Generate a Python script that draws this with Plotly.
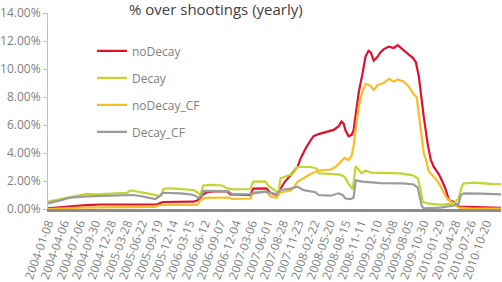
import plotly.graph_objects as go

tick_labels = ["2004-01-08", "2004-04-06", "2004-07-06", "2004-09-30", "2004-12-28",
               "2005-03-28", "2005-06-22", "2005-09-19", "2005-12-14", "2006-03-15",
               "2006-06-12", "2006-09-07", "2006-12-04", "2007-03-06", "2007-06-01",
               "2007-08-28", "2007-11-23", "2008-02-22", "2008-05-20", "2008-08-15",
               "2008-11-11", "2009-02-10", "2009-05-08", "2009-08-05", "2009-10-30",
               "2010-01-29", "2010-04-28", "2010-07-26", "2010-10-20"]

nodecay_dates = ["2004-01-08", "2004-02-16", "2004-04-13", "2004-06-20", "2004-08-16", "2004-10-29",
                 "2005-04-16", "2005-08-08", "2005-09-16", "2005-10-03", "2005-10-20", "2006-04-08",
                 "2006-05-01", "2006-05-18", "2006-06-04", "2006-06-27", "2006-07-31", "2006-10-18",
                 "2006-11-04", "2007-02-25", "2007-03-14", "2007-05-27", "2007-06-19", "2007-07-23",
                 "2007-08-15", "2007-09-06", "2007-10-10", "2007-11-19", "2007-12-06", "2008-01-03",
                 "2008-02-01", "2008-02-18", "2008-03-17", "2008-05-08", "2008-06-10", "2008-07-08",
                 "2008-07-25", "2008-08-06", "2008-08-17", "2008-09-03", "2008-09-20", "2008-10-01",
                 "2008-10-13", "2008-10-30", "2008-11-21", "2008-12-08", "2008-12-25", "2009-01-06",
                 "2009-01-23", "2009-02-09", "2009-03-03", "2009-03-20", "2009-04-18", "2009-05-16",
                 "2009-06-08", "2009-06-25", "2009-07-12", "2009-08-03", "2009-09-01", "2009-09-18",
                 "2009-10-05", "2009-10-16", "2009-11-02", "2009-11-25", "2009-12-12", "2009-12-29",
                 "2010-01-26", "2010-02-18", "2010-03-07", "2010-03-24", "2010-04-21", "2010-05-19",
                 "2010-08-12", "2011-01-13"]
nodecay_vals = [0.05, 0.10, 0.18, 0.22, 0.28, 0.32,
                0.32, 0.30, 0.33, 0.42, 0.50, 0.52,
                0.60, 0.80, 1.05, 1.20, 1.25, 1.25,
                1.05, 1.00, 1.45, 1.48, 1.15, 1.00,
                1.50, 1.90, 2.40, 3.00, 3.60, 4.30,
                4.90, 5.20, 5.35, 5.50, 5.65, 5.90,
                6.25, 6.10, 5.60, 5.20, 5.30, 5.60,
                6.80, 8.30, 9.70, 10.90, 11.30, 11.20,
                10.60, 10.80, 11.20, 11.40, 11.60, 11.50,
                11.70, 11.50, 11.35, 11.10, 10.80, 10.50,
                9.50, 8.20, 6.60, 4.60, 3.50, 3.00,
                2.50, 1.90, 1.36, 0.64, 0.50, 0.17,
                0.12, 0.08]

decay_dates = ["2004-01-08", "2004-02-16", "2004-03-27", "2004-04-30", "2004-05-29", "2004-07-07",
               "2004-08-16", "2004-09-30", "2004-11-26", "2005-01-10", "2005-02-19", "2005-03-30",
               "2005-04-16", "2005-05-09", "2005-06-12", "2005-08-08", "2005-09-11", "2005-09-22",
               "2005-10-09", "2005-10-20", "2005-11-12", "2005-12-27", "2006-02-22", "2006-04-08",
               "2006-05-01", "2006-05-18", "2006-06-04", "2006-07-14", "2006-09-20", "2006-10-12",
               "2006-11-21", "2007-01-28", "2007-02-25", "2007-03-14", "2007-05-21", "2007-06-08",
               "2007-07-06", "2007-08-03", "2007-08-15", "2007-09-23", "2007-10-22", "2007-11-19",
               "2008-02-01", "2008-03-06", "2008-03-17", "2008-07-20", "2008-08-11", "2008-09-03",
               "2008-09-26", "2008-10-13", "2008-11-04", "2008-11-16", "2008-12-08", "2009-01-06",
               "2009-06-25", "2009-09-01", "2009-09-29", "2009-10-16", "2009-10-27", "2009-11-25",
               "2010-02-06", "2010-04-21", "2010-05-19", "2010-06-05", "2010-06-17", "2010-08-12",
               "2010-11-17", "2011-01-13"]
decay_vals = [0.52, 0.62, 0.75, 0.85, 0.90, 0.98,
              1.08, 1.05, 1.08, 1.15, 1.12, 1.15,
              1.32, 1.30, 1.20, 1.10, 1.00, 0.88,
              0.95, 1.40, 1.48, 1.45, 1.40, 1.36,
              1.20, 1.00, 1.67, 1.72, 1.68, 1.50,
              1.40, 1.40, 1.43, 1.95, 1.97, 1.65,
              1.40, 1.15, 2.20, 2.40, 2.50, 3.00,
              3.00, 2.90, 2.55, 2.45, 2.30, 1.80,
              1.40, 3.05, 2.70, 2.55, 2.75, 2.60,
              2.55, 2.40, 2.20, 1.36, 0.52, 0.40,
              0.29, 0.40, 0.76, 1.60, 1.83, 1.88,
              1.80, 1.78]

nodecay_cf_dates = ["2004-01-08", "2004-03-16", "2004-07-07", "2005-02-19", "2005-09-05", "2005-09-22",
                    "2005-10-20", "2006-05-01", "2006-05-18", "2006-06-15", "2006-10-24", "2006-11-15",
                    "2007-02-25", "2007-03-14", "2007-05-27", "2007-06-19", "2007-07-23", "2007-08-15",
                    "2007-10-10", "2007-11-02", "2007-11-19", "2007-12-23", "2008-02-01", "2008-03-17",
                    "2008-05-25", "2008-06-21", "2008-07-20", "2008-08-11", "2008-09-03", "2008-09-20",
                    "2008-10-01", "2008-10-13", "2008-10-30", "2008-11-16", "2008-12-08", "2009-01-06",
                    "2009-01-23", "2009-02-14", "2009-03-20", "2009-04-18", "2009-05-16", "2009-06-08",
                    "2009-07-12", "2009-08-09", "2009-09-06", "2009-09-23", "2009-10-05", "2009-10-22",
                    "2009-11-02", "2009-11-13", "2009-11-30", "2009-12-29", "2010-01-21", "2010-02-06",
                    "2010-02-23", "2010-03-18", "2010-04-15", "2010-05-02", "2010-05-19", "2010-07-26",
                    "2011-01-13"]
nodecay_cf_vals = [0.00, 0.05, 0.10, 0.13, 0.15, 0.25,
                   0.30, 0.30, 0.60, 0.80, 0.82, 0.72,
                   0.75, 1.20, 1.24, 0.90, 0.80, 1.20,
                   1.30, 1.60, 1.95, 2.20, 2.50, 2.75,
                   2.82, 3.00, 3.35, 3.65, 3.50, 3.80,
                   4.50, 5.60, 7.30, 8.20, 8.95, 8.80,
                   8.50, 8.85, 9.00, 9.30, 9.10, 9.25,
                   9.10, 8.75, 8.20, 8.00, 6.80, 5.00,
                   4.00, 3.60, 2.70, 2.30, 1.95, 1.60,
                   1.15, 0.70, 0.40, 0.25, 0.10, 0.05,
                   0.03]

decay_cf_dates = ["2004-01-08", "2004-02-16", "2004-03-27", "2004-04-30", "2004-05-29", "2004-08-16",
                  "2004-10-29", "2005-01-10", "2005-05-03", "2005-06-12", "2005-08-08", "2005-09-05",
                  "2005-09-22", "2005-10-09", "2005-10-20", "2006-01-25", "2006-03-22", "2006-04-20",
                  "2006-05-07", "2006-05-24", "2006-06-04", "2006-10-24", "2006-11-15", "2007-02-25",
                  "2007-03-14", "2007-05-27", "2007-06-19", "2007-07-23", "2007-08-15", "2007-10-10",
                  "2007-11-19", "2007-12-23", "2008-02-29", "2008-03-17", "2008-05-25", "2008-07-08",
                  "2008-07-31", "2008-08-17", "2008-09-14", "2008-10-01", "2008-10-13", "2008-11-21",
                  "2009-03-03", "2009-07-12", "2009-09-06", "2009-09-29", "2009-10-10", "2009-10-22",
                  "2009-11-02", "2010-02-06", "2010-04-21", "2010-05-19", "2010-05-31", "2010-06-17",
                  "2010-09-21", "2011-01-13"]
decay_cf_vals = [0.40, 0.50, 0.65, 0.78, 0.83, 0.90,
                 0.93, 1.00, 1.00, 0.93, 0.80, 0.71,
                 0.85, 1.00, 1.16, 1.12, 1.05, 0.95,
                 0.78, 0.95, 1.30, 1.28, 1.05, 1.07,
                 1.12, 1.24, 1.15, 1.05, 1.36, 1.45,
                 1.60, 1.35, 1.20, 1.00, 0.95, 1.12,
                 1.00, 0.75, 0.70, 0.80, 2.05, 1.95,
                 1.85, 1.83, 1.75, 1.55, 0.90, 0.20,
                 0.05, 0.10, 0.25, 0.40, 1.00, 1.12,
                 1.10, 1.05]

series = [
    ("noDecay", nodecay_dates, nodecay_vals, "#E0102F"),
    ("Decay", decay_dates, decay_vals, "#C2D531"),
    ("noDecay_CF", nodecay_cf_dates, nodecay_cf_vals, "#FABD28"),
    ("Decay_CF", decay_cf_dates, decay_cf_vals, "#9B9B9B"),
]

FONT = "Open Sans"
fig = go.Figure()
for name, xs, ys, col in series:
    fig.add_trace(go.Scatter(x=xs, y=ys, mode="lines", name=name, legendgroup=name,
                             line=dict(color=col, width=2.2)))

fig.update_layout(
    width=502, height=282,
    margin=dict(l=48, r=1, t=13, b=73),
    paper_bgcolor="white", plot_bgcolor="white",
    font=dict(family=FONT, color="#7f7f7f"),
    title=dict(text="% over shootings (yearly)", x=0.43, xanchor="center",
               y=0.985, yanchor="top", font=dict(family=FONT, size=15, color="#404040")),
    showlegend=True,
    legend=dict(x=0.097, y=0.881, xanchor="left", yanchor="top", bgcolor="rgba(0,0,0,0)",
                font=dict(family=FONT, size=12, color="#7f7f7f"), tracegroupgap=8),
    xaxis=dict(type="date", range=["2004-01-08", "2011-01-13"], automargin=False,
               tickvals=tick_labels, ticktext=tick_labels, tickangle=-70,
               showgrid=False, zeroline=False, showline=True, linecolor="#8c8c8c", linewidth=3,
               ticks="", tickfont=dict(family=FONT, size=11.8, color="#7f7f7f")),
    yaxis=dict(range=[0, 14], dtick=2, tickformat=".2f", ticksuffix="%", automargin=False,
               showgrid=False, zeroline=False, showline=True, linecolor="#bfbfbf", linewidth=1,
               ticks="outside", ticklen=4, tickcolor="#bfbfbf",
               tickfont=dict(family=FONT, size=12, color="#7f7f7f")),
)

fig.write_html("out.html")
